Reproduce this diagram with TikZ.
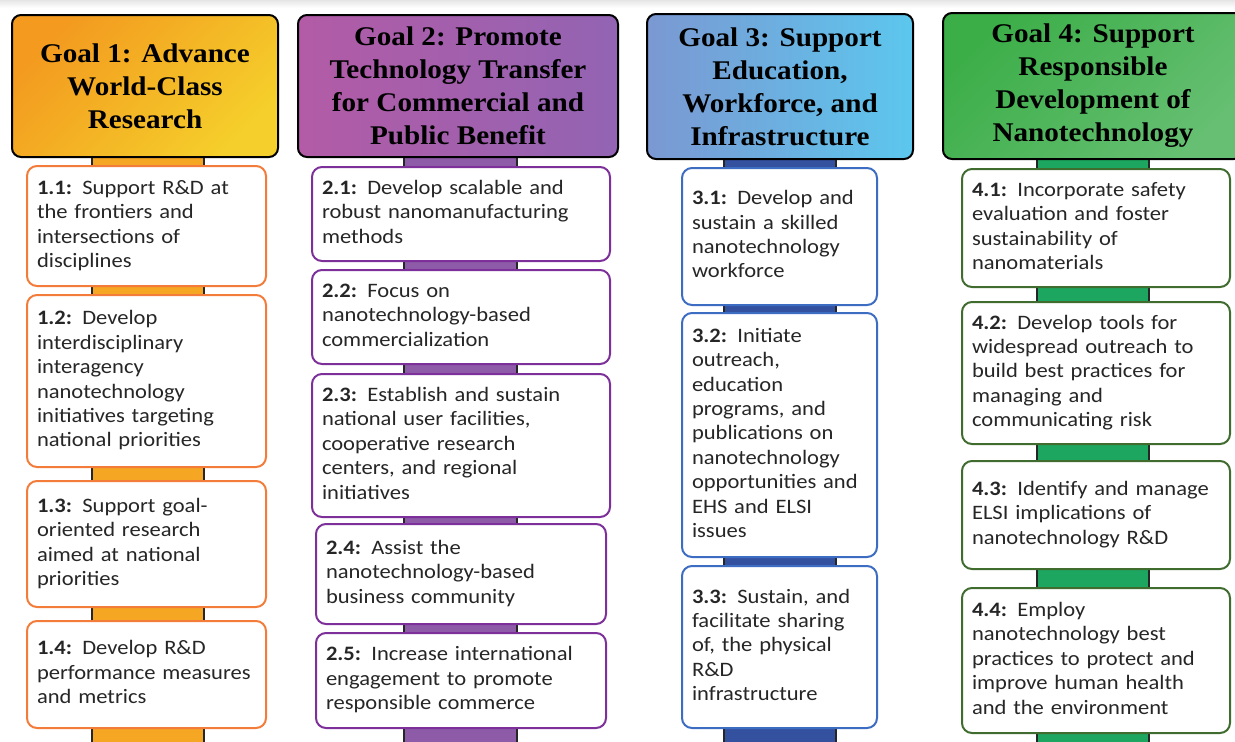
\documentclass[tikz,border=0pt]{standalone}
\usepackage{fontspec}
\newfontfamily\bodyfont[FakeStretch=1.1]{Carlito}
\newfontfamily\headfont[FakeStretch=1.08]{Liberation Serif}
\definecolor{h1a}{HTML}{F39A1F}\definecolor{h1b}{HTML}{F5CF2B}
\definecolor{h2a}{HTML}{B35BA6}\definecolor{h2b}{HTML}{9264B3}
\definecolor{h3a}{HTML}{7B98D2}\definecolor{h3b}{HTML}{5CC7EE}
\definecolor{h4a}{HTML}{3CAE48}\definecolor{h4b}{HTML}{66BF72}
\definecolor{s1}{HTML}{F5A623}\definecolor{s2}{HTML}{8E5BA8}
\definecolor{s3}{HTML}{34519F}\definecolor{s4}{HTML}{1DA65F}
\definecolor{b1}{HTML}{F47C3A}\definecolor{b2}{HTML}{7D309A}
\definecolor{b3}{HTML}{3C6DC2}\definecolor{b4}{HTML}{416C30}
\tikzset{
  head/.style={draw=black, line width=2pt, rounded corners=9pt, align=center,
    font=\headfont\bfseries\fontsize{27}{33}\selectfont, inner sep=0pt},
  sub/.style={fill=white, line width=2pt, rounded corners=10pt, inner xsep=10pt,
    inner ysep=0pt, font=\bodyfont\fontsize{20.5}{24.4}\selectfont, text=black!85, align=left},
  sub1/.style={sub, draw=b1}, sub2/.style={sub, draw=b2},
  sub3/.style={sub, draw=b3}, sub4/.style={sub, draw=b4},
  spineedge/.style={draw=black!85, line width=1.2pt},
}
\newcommand\subgoal[7]{\node[#2, minimum width=#5pt, minimum height=#6pt,
  text width=#5pt-20pt] (#1) at (#3,#4) {\begin{tabular}{@{}l@{}}#7\end{tabular}};}
\newcommand\spinebar[3]{\fill[#1] (#2,150) rectangle (#3,742);
  \draw[spineedge] (#2,150) -- (#2,742) (#3,150) -- (#3,742);}
\begin{document}
\begin{tikzpicture}[x=1pt,y=-1pt]
\useasboundingbox (0,0) rectangle (1235,742);
\clip (0,0) rectangle (1235,742);
\fill[white] (0,0) rectangle (1235,742);
\shade[top color=black!10, bottom color=white] (0,0) rectangle (1235,8);
% spines
\spinebar{s1}{92}{204}
\spinebar{s2}{404}{517}
\spinebar{s3}{724}{836}
\spinebar{s4}{1037}{1149}
% headers
\node[head, top color=h1a, bottom color=h1b, shading angle=45,
  minimum width=266pt, minimum height=142pt] (g1) at (145,86)
  {Goal 1: Advance\\World-Class\\Research};
\node[head, left color=h2a, right color=h2b,
  minimum width=320pt, minimum height=142pt] (g2) at (458,86)
  {Goal 2: Promote\\Technology Transfer\\for Commercial and\\Public Benefit};
\node[head, left color=h3a, right color=h3b,
  minimum width=266pt, minimum height=145pt] (g3) at (780,86.5)
  {Goal 3: Support\\Education,\\Workforce, and\\Infrastructure};
\node[head, top color=h4a, bottom color=h4b, shading angle=45,
  minimum width=300pt, minimum height=146pt] (g4) at (1093,86)
  {Goal 4: Support\\Responsible\\Development of\\Nanotechnology};
% goal 1
\subgoal{b11}{sub1}{146.5}{226}{239}{120}{\textbf{1.1:} Support R\&D at\\the frontiers and\\intersections of\\disciplines}
\subgoal{b12}{sub1}{146.5}{381}{239}{172}{\textbf{1.2:} Develop\\interdisciplinary\\interagency\\nanotechnology\\initiatives targeting\\national priorities}
\subgoal{b13}{sub1}{146.5}{544}{239}{126}{\textbf{1.3:} Support goal-\\oriented research\\aimed at national\\priorities}
\subgoal{b14}{sub1}{146.5}{674.5}{239}{107}{\textbf{1.4:} Develop R\&D\\performance measures\\and metrics}
% goal 2
\subgoal{b21}{sub2}{461}{214}{298}{94}{\textbf{2.1:} Develop scalable and\\robust nanomanufacturing\\methods}
\subgoal{b22}{sub2}{461}{317}{298}{94}{\textbf{2.2:} Focus on\\nanotechnology-based\\commercialization}
\subgoal{b23}{sub2}{461}{445.5}{298}{143}{\textbf{2.3:} Establish and sustain\\national user facilities,\\cooperative research\\centers, and regional\\initiatives}
\subgoal{b24}{sub2}{461}{574}{290}{100}{\textbf{2.4:} Assist the\\nanotechnology-based\\business community}
\subgoal{b25}{sub2}{461}{680.5}{290}{95}{\textbf{2.5:} Increase international\\engagement to promote\\responsible commerce}
% goal 3
\subgoal{b31}{sub3}{779.5}{236.5}{195}{137}{\textbf{3.1:} Develop and\\sustain a skilled\\nanotechnology\\workforce}
\subgoal{b32}{sub3}{779.5}{435}{195}{244}{\textbf{3.2:} Initiate\\outreach,\\education\\programs, and\\publications on\\nanotechnology\\opportunities and\\EHS and ELSI\\issues}
\subgoal{b33}{sub3}{779.5}{647}{195}{162}{\textbf{3.3:} Sustain, and\\facilitate sharing\\of, the physical\\R\&D\\infrastructure}
% goal 4
\subgoal{b41}{sub4}{1096}{228}{268}{118}{\textbf{4.1:} Incorporate safety\\evaluation and foster\\sustainability of\\nanomaterials}
\subgoal{b42}{sub4}{1096}{373}{268}{142}{\textbf{4.2:} Develop tools for\\widespread outreach to\\build best practices for\\managing and\\communicating risk}
\subgoal{b43}{sub4}{1096}{515}{268}{108}{\textbf{4.3:} Identify and manage\\ELSI implications of\\nanotechnology R\&D}
\subgoal{b44}{sub4}{1096}{660.5}{268}{145}{\textbf{4.4:} Employ\\nanotechnology best\\practices to protect and\\improve human health\\and the environment}
\end{tikzpicture}
\end{document}
